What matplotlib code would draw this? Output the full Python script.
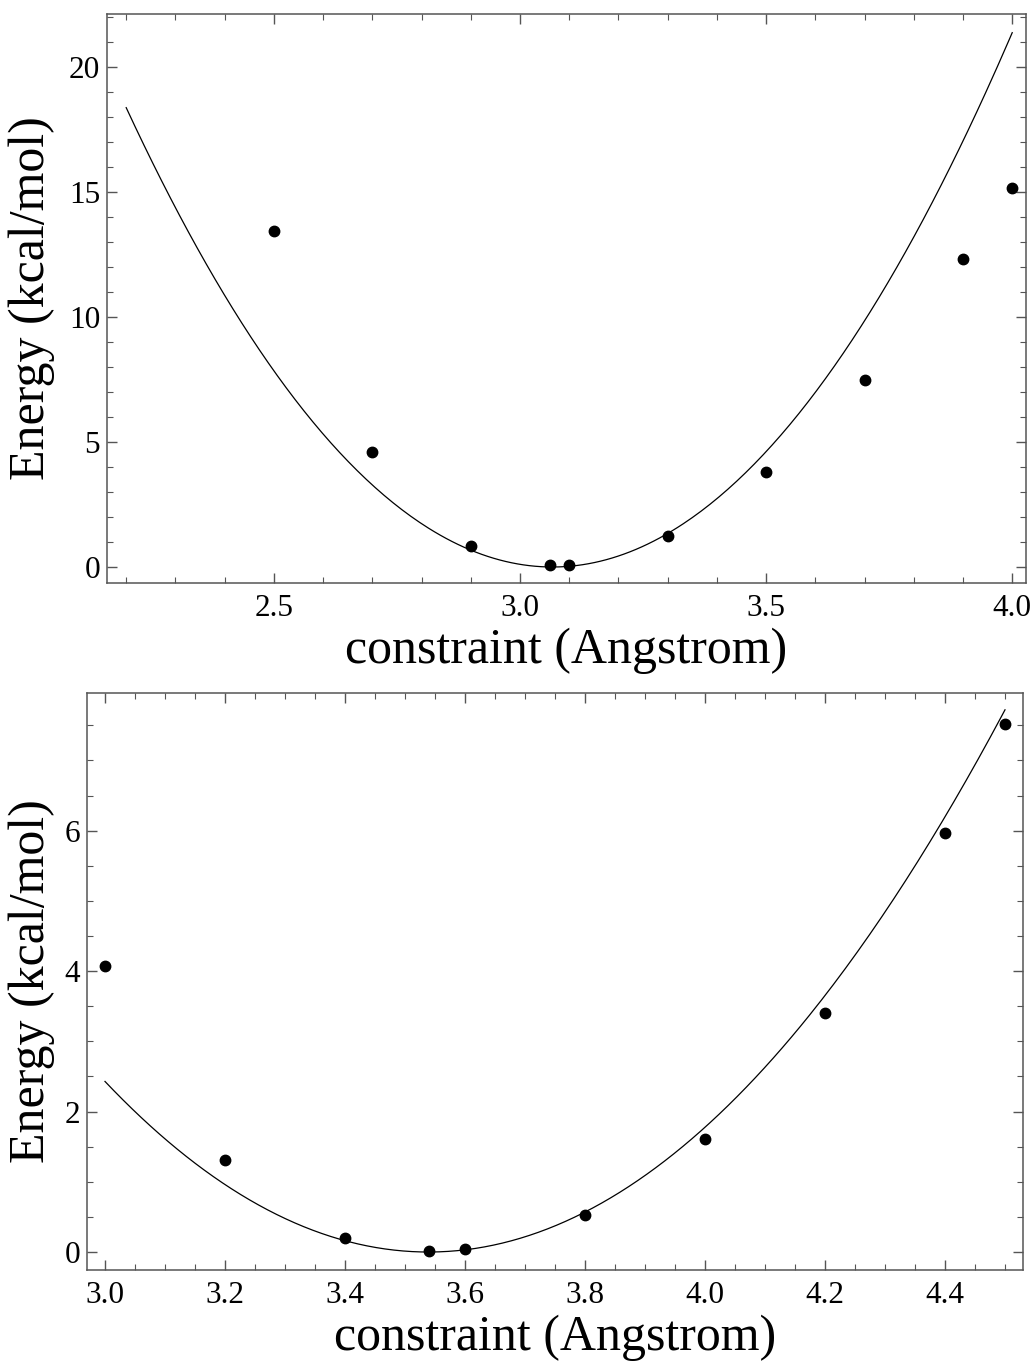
import numpy as np
import matplotlib.pyplot as plt
from matplotlib.ticker import MultipleLocator

plt.rcParams['font.family'] = ['Liberation Serif', 'DejaVu Serif']

# top panel: scan points and fitted parabola  E = k (x - x0)^2
r_top = [2.5, 2.7, 2.9, 3.06, 3.1, 3.3, 3.5, 3.7, 3.9, 4.0]
e_top = [13.43, 4.62, 0.86, 0.08, 0.08, 1.26, 3.82, 7.47, 12.32, 15.18]
fit_top = (24.5, 3.066)   # k, x0
fit_top_range = (2.2, 4.0)

# bottom panel
r_bot = [3.0, 3.2, 3.4, 3.54, 3.6, 3.8, 4.0, 4.2, 4.4, 4.5]
e_bot = [4.07, 1.31, 0.2, 0.02, 0.05, 0.53, 1.61, 3.41, 5.97, 7.52]
fit_bot = (8.36, 3.539)
fit_bot_range = (3.0, 4.5)

W, H = 1036, 1363
fig = plt.figure(figsize=(W / 100, H / 100), dpi=100)

frame = '#555555'


def panel(rect, r, e, fit, frange, xlim, ylim, xmaj, xmin, ymaj, ymin, xfmt):
    ax = fig.add_axes(rect)
    k, x0 = fit
    xs = np.linspace(frange[0], frange[1], 300)
    ax.plot(xs, k * (xs - x0) ** 2, color='black', lw=0.9)
    ax.plot(r, e, 'o', color='black', ms=7.5)
    ax.set_xlim(*xlim)
    ax.set_ylim(*ylim)
    ax.xaxis.set_major_locator(MultipleLocator(xmaj))
    ax.xaxis.set_minor_locator(MultipleLocator(xmin))
    ax.yaxis.set_major_locator(MultipleLocator(ymaj))
    ax.yaxis.set_minor_locator(MultipleLocator(ymin))
    ax.xaxis.set_major_formatter(xfmt)
    ax.yaxis.set_major_formatter(lambda v, p: '%d' % round(v))
    ax.tick_params(which='both', direction='in', top=True, right=True,
                   color=frame, labelsize=22.5, labelcolor='black')
    ax.tick_params(which='major', length=7, width=1)
    ax.tick_params(which='minor', length=4, width=0.8)
    ax.tick_params(axis='x', pad=8)
    ax.tick_params(axis='y', pad=5)
    for s in ax.spines.values():
        s.set_color(frame)
        s.set_linewidth(1.1)
    ax.set_xlabel('constraint (Angstrom)', fontsize=36)
    ax.set_ylabel('Energy (kcal/mol)', fontsize=36)
    return ax


def fr(left, top, right, bottom):
    return [left / W, 1 - bottom / H, (right - left) / W, (bottom - top) / H]


ax1 = panel(fr(107, 14, 1026, 583), r_top, e_top, fit_top, fit_top_range,
            (2.161, 4.028), (-0.64, 22.12), 0.5, 0.1, 5, 1,
            lambda v, p: '%.1f' % v)
ax1.xaxis.set_label_coords(0.5, -(651 - 583) / (583 - 14))
ax1.xaxis.label.set_va('center')
ax1.yaxis.set_label_coords(-(107 - 32) / (1026 - 107), 0.5)
ax1.yaxis.label.set_va('center')

ax2 = panel(fr(87, 693, 1023, 1270), r_bot, e_bot, fit_bot, fit_bot_range,
            (2.97, 4.53), (-0.256, 7.96), 0.2, 0.05, 2, 0.5,
            lambda v, p: '%.1f' % v)
ax2.xaxis.set_label_coords(0.5, -(1338 - 1270) / (1270 - 693))
ax2.xaxis.label.set_va('center')
ax2.yaxis.set_label_coords(-(87 - 32) / (1023 - 87), 0.5)
ax2.yaxis.label.set_va('center')

fig.savefig('out.png', dpi=100)
